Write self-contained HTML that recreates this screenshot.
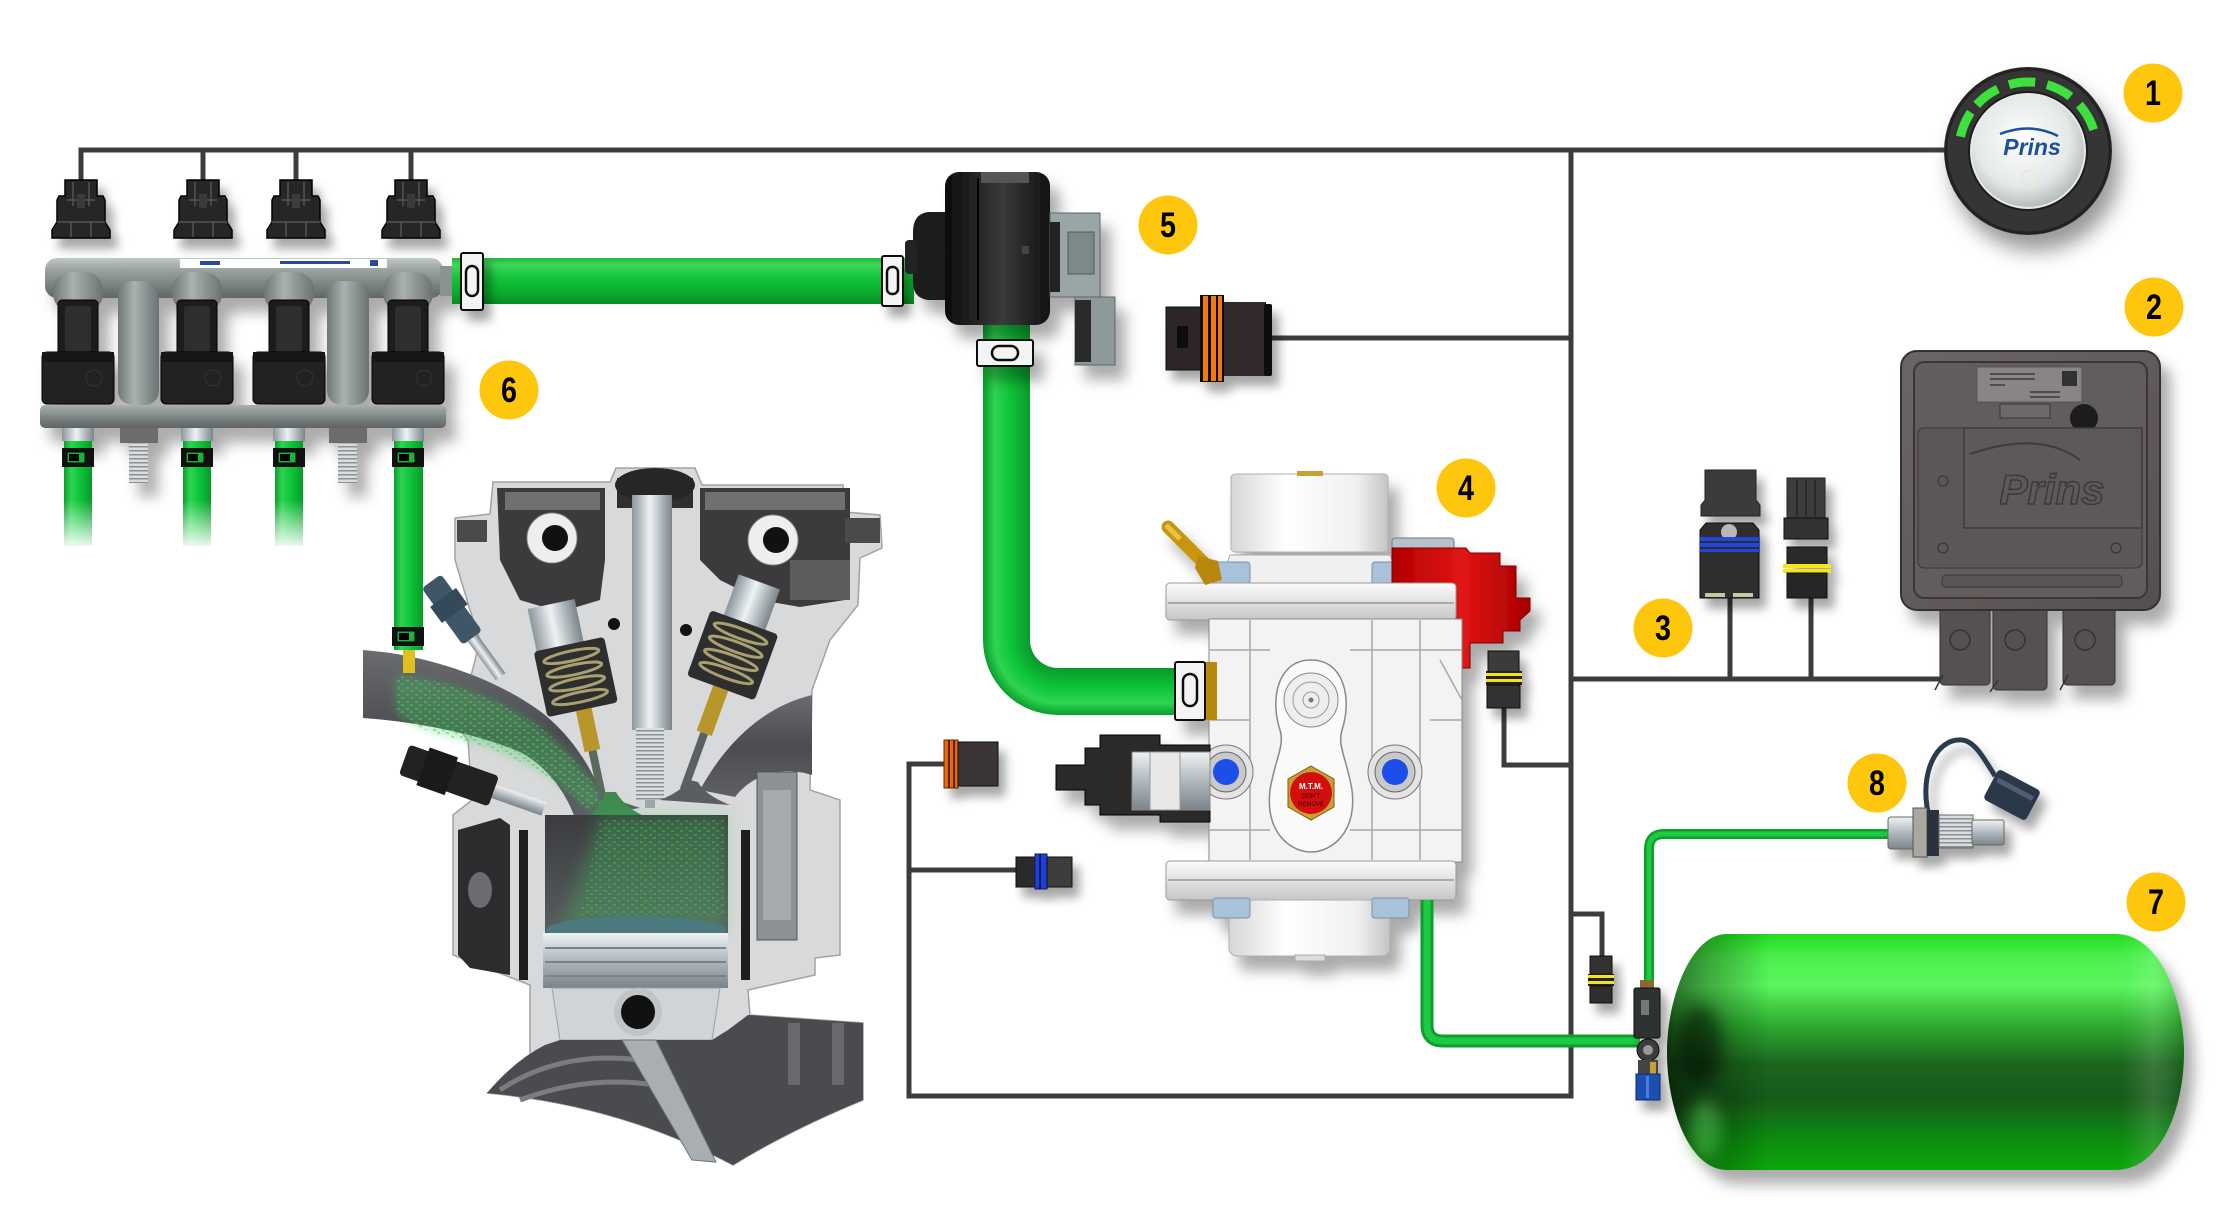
<!DOCTYPE html>
<html><head><meta charset="utf-8"><style>
html,body{margin:0;padding:0;background:#fff;}
svg{display:block;}
</style></head><body>
<svg width="2229" height="1232" viewBox="0 0 2229 1232" xmlns="http://www.w3.org/2000/svg" xmlns:xlink="http://www.w3.org/1999/xlink" font-family="'Liberation Sans', Arial, sans-serif">
<defs>
 <filter id="sh" x="-30%" y="-30%" width="170%" height="170%"><feDropShadow dx="10" dy="14" stdDeviation="7" flood-color="#000" flood-opacity="0.33"/></filter>
 <filter id="shs" x="-40%" y="-40%" width="190%" height="190%"><feDropShadow dx="7" dy="10" stdDeviation="5" flood-color="#000" flood-opacity="0.35"/></filter>
 <filter id="shk" x="-30%" y="-30%" width="170%" height="170%"><feDropShadow dx="8" dy="16" stdDeviation="10" flood-color="#000" flood-opacity="0.4"/></filter>
 <filter id="b4" x="-20%" y="-20%" width="140%" height="140%"><feGaussianBlur stdDeviation="4"/></filter>
 <filter id="b8" x="-30%" y="-30%" width="160%" height="160%"><feGaussianBlur stdDeviation="8"/></filter>
 <linearGradient id="gh" x1="0" y1="0" x2="0" y2="1"><stop offset="0" stop-color="#1fb83c"/><stop offset="0.15" stop-color="#3cd95a"/><stop offset="0.45" stop-color="#12c43a"/><stop offset="0.8" stop-color="#08a82c"/><stop offset="1" stop-color="#0a8a24"/></linearGradient>
 <linearGradient id="gh2" x1="0" y1="0" x2="0" y2="1"><stop offset="0" stop-color="#089a2a"/><stop offset="0.45" stop-color="#0ec73a"/><stop offset="0.75" stop-color="#2fd452"/><stop offset="1" stop-color="#0a9e2c"/></linearGradient>
 <linearGradient id="gv" x1="0" y1="0" x2="1" y2="0"><stop offset="0" stop-color="#0a9e2c"/><stop offset="0.25" stop-color="#2fd452"/><stop offset="0.55" stop-color="#0ec73a"/><stop offset="1" stop-color="#089a2a"/></linearGradient>
 <radialGradient id="gc" cx="1058" cy="640" r="75" gradientUnits="userSpaceOnUse"><stop offset="0.37" stop-color="#089a2a"/><stop offset="0.65" stop-color="#0ec73a"/><stop offset="0.84" stop-color="#2fd452"/><stop offset="1" stop-color="#0a9e2c"/></radialGradient>
 <linearGradient id="fadew" x1="0" y1="0" x2="0" y2="1"><stop offset="0" stop-color="#fff" stop-opacity="0"/><stop offset="1" stop-color="#fff" stop-opacity="1"/></linearGradient>
 <linearGradient id="gray1" x1="0" y1="0" x2="1" y2="0"><stop offset="0" stop-color="#6f7777"/><stop offset="0.4" stop-color="#aab1b1"/><stop offset="1" stop-color="#6a7272"/></linearGradient>
 <linearGradient id="railg" x1="0" y1="0" x2="0" y2="1"><stop offset="0" stop-color="#c2c8c8"/><stop offset="0.3" stop-color="#9aa2a2"/><stop offset="1" stop-color="#5e6666"/></linearGradient>
 <linearGradient id="plate" x1="0" y1="0" x2="0" y2="1"><stop offset="0" stop-color="#a9b0b0"/><stop offset="0.5" stop-color="#7f8787"/><stop offset="1" stop-color="#5d6464"/></linearGradient>
 <linearGradient id="silv" x1="0" y1="0" x2="1" y2="0"><stop offset="0" stop-color="#8c969c"/><stop offset="0.45" stop-color="#eef2f4"/><stop offset="1" stop-color="#7a848a"/></linearGradient>
 <linearGradient id="silvv" x1="0" y1="0" x2="0" y2="1"><stop offset="0" stop-color="#eef2f4"/><stop offset="0.5" stop-color="#b0b8be"/><stop offset="1" stop-color="#7a848a"/></linearGradient>
 <pattern id="thr" width="4" height="4" patternUnits="userSpaceOnUse"><rect width="4" height="4" fill="#d8dde0"/><rect y="2" width="4" height="1.5" fill="#8a9095"/></pattern>
 <linearGradient id="blk" x1="0" y1="0" x2="1" y2="0"><stop offset="0" stop-color="#0c0c0c"/><stop offset="0.55" stop-color="#3a3a3a"/><stop offset="1" stop-color="#111"/></linearGradient>
 <linearGradient id="wht" x1="0" y1="0" x2="1" y2="0"><stop offset="0" stop-color="#d6d6d6"/><stop offset="0.35" stop-color="#ffffff"/><stop offset="0.8" stop-color="#f0f0f0"/><stop offset="1" stop-color="#c4c4c4"/></linearGradient>
 <linearGradient id="flg" x1="0" y1="0" x2="0" y2="1"><stop offset="0" stop-color="#fbfbfb"/><stop offset="0.5" stop-color="#e2e2e2"/><stop offset="1" stop-color="#c6c6c6"/></linearGradient>
 <linearGradient id="red" x1="0" y1="0" x2="1" y2="0"><stop offset="0" stop-color="#b00000"/><stop offset="0.5" stop-color="#e21414"/><stop offset="1" stop-color="#a80000"/></linearGradient>
 <linearGradient id="tk" x1="0" y1="0" x2="0" y2="1"><stop offset="0" stop-color="#22dd22"/><stop offset="0.1" stop-color="#4cf04e"/><stop offset="0.22" stop-color="#5cf55e"/><stop offset="0.38" stop-color="#2eae30"/><stop offset="0.55" stop-color="#1c661e"/><stop offset="0.7" stop-color="#175a19"/><stop offset="0.86" stop-color="#0d8a10"/><stop offset="1" stop-color="#0aa80c"/></linearGradient>
 <linearGradient id="tkh" x1="0" y1="0" x2="1" y2="0"><stop offset="0" stop-color="#000" stop-opacity="0.55"/><stop offset="0.08" stop-color="#000" stop-opacity="0.3"/><stop offset="0.2" stop-color="#000" stop-opacity="0"/><stop offset="0.88" stop-color="#fff" stop-opacity="0"/><stop offset="0.94" stop-color="#fff" stop-opacity="0.13"/><stop offset="1" stop-color="#003300" stop-opacity="0.2"/></linearGradient>
 <radialGradient id="knobw" cx="0.45" cy="0.4" r="0.6"><stop offset="0" stop-color="#ffffff"/><stop offset="0.7" stop-color="#e4e8e8"/><stop offset="1" stop-color="#b8bdbd"/></radialGradient>
 <linearGradient id="bore" x1="0" y1="0" x2="0" y2="1"><stop offset="0" stop-color="#3a3c3e"/><stop offset="1" stop-color="#5a5d60"/></linearGradient>
 <linearGradient id="port" x1="0" y1="0" x2="0" y2="1"><stop offset="0" stop-color="#6a6c70"/><stop offset="0.5" stop-color="#4a4c50"/><stop offset="1" stop-color="#5e6064"/></linearGradient>
 <linearGradient id="ecu" x1="0" y1="0" x2="1" y2="1"><stop offset="0" stop-color="#6c6666"/><stop offset="1" stop-color="#564f4f"/></linearGradient>
 <pattern id="speck" width="9" height="7" patternUnits="userSpaceOnUse"><rect width="9" height="7" fill="none"/><rect x="1" y="1" width="3" height="2" fill="#3fd05a"/><rect x="5" y="4" width="3" height="2" fill="#3fd05a"/></pattern>

 <g id="tc"><path d="M-16,180 H16 V196 H22 L24,200 V222 L29,230 V238 H-29 V230 L-24,222 V200 L-22,196 H-16 Z" fill="#262626" stroke="#000" stroke-width="1.5"/><path d="M-8,182 V206 M8,182 V206 M-14,200 H14 M-10,222 V237 M10,222 V237 M-24,222 H24" stroke="#555" stroke-width="1.5" fill="none"/><rect x="-4" y="194" width="8" height="14" fill="#3a3a3a"/></g>
 <g id="inj"><rect x="-25" y="272" width="50" height="40" rx="18" fill="url(#gray1)"/><rect x="-20" y="300" width="40" height="62" rx="4" fill="#1d1d1d" stroke="#000"/><rect x="-13" y="306" width="26" height="46" rx="3" fill="#2e2e2e"/><rect x="-36" y="352" width="72" height="52" rx="5" fill="#232323" stroke="#000"/><rect x="-36" y="352" width="72" height="10" fill="#161616"/><circle cx="16" cy="378" r="8" fill="none" stroke="#333"/><rect x="-16" y="427" width="32" height="14" fill="url(#silv)"/></g>
 <g id="clip"><rect x="-16" y="0" width="32" height="19" fill="#111"/><rect x="-11" y="4" width="18" height="11" fill="#18b53a" stroke="#000"/><rect x="-9" y="6" width="10" height="7" fill="#000"/></g>
</defs>

<!-- wiring -->
<g stroke="#3c3c3c" stroke-width="5" fill="none" stroke-linejoin="miter">
 <path d="M81,184 V150 H1946"/>
 <path d="M203,150 V184 M296,150 V184 M411,150 V184"/>
 <path d="M1571,150 V1096 H909 V764 H944"/>
 <path d="M909,870 H1016"/>
 <path d="M1272,338 H1571"/>
 <path d="M1571,679 H1942 M1730,598 V679 M1811,598 V679"/>
 <path d="M1504,708 V765 H1571"/>
 <path d="M1571,914 H1602 V956"/>
</g>

<!-- injector connectors -->
<g filter="url(#shs)">
 <use xlink:href="#tc" x="81"/><use xlink:href="#tc" x="203"/><use xlink:href="#tc" x="296"/><use xlink:href="#tc" x="411"/>
</g>

<!-- rail -->
<g filter="url(#sh)">
 <rect x="45" y="258" width="398" height="40" rx="12" fill="url(#railg)"/>
 <rect x="440" y="266" width="16" height="30" fill="#8a9292"/>
 <rect x="180" y="259" width="207" height="9" fill="#fff"/>
 <rect x="200" y="261" width="20" height="4" fill="#2a4aa0"/><rect x="280" y="261" width="70" height="3" fill="#2a4aa0"/><rect x="370" y="260" width="8" height="6" fill="#2a4aa0"/>
 <rect x="118" y="281" width="41" height="124" rx="14" fill="url(#gray1)"/>
 <rect x="327" y="281" width="42" height="124" rx="14" fill="url(#gray1)"/>
 <use xlink:href="#inj" x="78"/><use xlink:href="#inj" x="197"/><use xlink:href="#inj" x="289"/><use xlink:href="#inj" x="408"/>
 <rect x="40" y="405" width="406" height="23" rx="5" fill="url(#plate)"/>
 <rect x="120" y="428" width="38" height="15" fill="#6d6d6d"/><rect x="129" y="443" width="19" height="40" fill="url(#thr)"/>
 <rect x="329" y="428" width="38" height="15" fill="#6d6d6d"/><rect x="338" y="443" width="19" height="40" fill="url(#thr)"/>
</g>

<!-- lower rail hoses -->
<rect x="64" y="441" width="28" height="105" fill="url(#gv)"/>
<rect x="183" y="441" width="28" height="105" fill="url(#gv)"/>
<rect x="275" y="441" width="28" height="105" fill="url(#gv)"/>
<rect x="58" y="500" width="250" height="50" fill="url(#fadew)"/>
<use xlink:href="#clip" x="78" y="448"/><use xlink:href="#clip" x="197" y="448"/><use xlink:href="#clip" x="289" y="448"/>

<!-- ENGINE -->
<g>
 <path d="M455,518 L490,514 L493,482 L610,482 L616,468 L695,468 L702,485 L843,485 L845,512 L880,515 L882,548 L860,558 L858,605 L830,640 L812,690 L810,790 L840,800 L840,955 L815,958 L815,975 L748,990 L750,1015 L863,1023 L863,1100 Q790,1130 733,1165 Q620,1105 487,1093 L530,1075 L530,985 L453,955 L453,815 L472,800 L468,740 L448,715 L470,680 L480,640 L470,610 L455,560 Z" fill="#d8d9da" stroke="#a0a2a4" stroke-width="1.5"/>
 <path d="M497,488 H605 V560 L600,600 L560,612 L520,600 L500,560 Z" fill="#3b3b3d"/>
 <path d="M700,488 H850 V560 L845,600 L800,607 L760,600 L720,580 L700,560 Z" fill="#3b3b3d"/>
 <path d="M505,492 H600 V510 H505 Z M705,492 H845 V510 H705 Z" fill="#6e7072"/>
 <path d="M790,560 H850 V600 H790 Z" fill="#5a5c5e"/>
 <circle cx="552" cy="538" r="25" fill="#eeeeee" stroke="#888"/><circle cx="555" cy="538" r="13" fill="#111"/>
 <circle cx="773" cy="540" r="25" fill="#eeeeee" stroke="#888"/><circle cx="776" cy="540" r="13" fill="#111"/>
 <rect x="457" y="520" width="30" height="22" fill="#4a4a4c"/>
 <rect x="845" y="518" width="35" height="25" fill="#4a4a4c"/>
 <circle cx="614" cy="624" r="6" fill="#111"/><circle cx="686" cy="630" r="6" fill="#111"/>
 <!-- intake port -->
 <path d="M363,650 C430,655 500,680 545,715 C575,740 592,770 602,795 L640,808 L575,818 C565,790 545,765 520,752 C480,735 420,722 363,718 Z" fill="url(#port)"/>
 <path d="M395,675 C450,680 515,702 555,740 C578,762 595,787 608,800 L588,810 C560,780 520,757 470,742 C430,732 410,727 395,712 Z" fill="#3fd05a" opacity="0.3" filter="url(#b4)"/>
 <path d="M395,675 C450,680 515,702 555,740 C578,762 595,787 608,800 L588,810 C560,780 520,757 470,742 C430,732 410,727 395,712 Z" fill="url(#speck)" opacity="0.5"/>
 <!-- exhaust port -->
 <path d="M812,695 C770,705 730,735 700,790 L735,797 C752,775 780,765 812,775 Z" fill="url(#port)"/>
 <!-- spark plug -->
 <rect x="617" y="478" width="76" height="30" fill="#2f2f2f"/>
 <ellipse cx="655" cy="485" rx="40" ry="17" fill="#262626"/>
 <rect x="632" y="495" width="40" height="235" fill="url(#silv)"/>
 <rect x="636" y="728" width="28" height="72" fill="url(#thr)"/>
 <rect x="645" y="800" width="10" height="8" fill="#9aa"/>
 <!-- left valve -->
 <g transform="rotate(-12,595,700)">
  <rect x="548" y="597" width="48" height="50" fill="url(#silv)"/>
  <rect x="545" y="640" width="72" height="67" rx="4" fill="#2e2e2e"/>
  <g fill="none" stroke="#a8a070" stroke-width="3"><ellipse cx="581" cy="652" rx="28" ry="5"/><ellipse cx="581" cy="666" rx="28" ry="5"/><ellipse cx="581" cy="680" rx="28" ry="5"/><ellipse cx="581" cy="694" rx="28" ry="5"/></g>
  <rect x="574" y="707" width="16" height="42" fill="#b8962a"/>
  <rect x="578" y="749" width="8" height="50" fill="#5a6a5e"/>
 </g>
 <path d="M577,826 Q600,808 606,792 L616,792 Q625,808 648,818 Z" fill="#3f8a4f"/>
 <!-- right valve -->
 <g transform="rotate(20,720,690)">
  <rect x="698" y="575" width="44" height="48" fill="url(#silv)"/>
  <rect x="684" y="618" width="72" height="70" rx="4" fill="#2e2e2e"/>
  <g fill="none" stroke="#a8a070" stroke-width="3"><ellipse cx="720" cy="630" rx="28" ry="5"/><ellipse cx="720" cy="644" rx="28" ry="5"/><ellipse cx="720" cy="658" rx="28" ry="5"/><ellipse cx="720" cy="672" rx="28" ry="5"/></g>
  <rect x="712" y="688" width="16" height="48" fill="#b8962a"/>
  <rect x="716" y="736" width="8" height="60" fill="#5a6064"/>
 </g>
 <path d="M660,800 Q680,792 690,780 L698,782 Q705,795 730,805 Z" fill="#5a5e62"/>
 <!-- injectors -->
 <g transform="rotate(-36,466,629)"><rect x="454" y="570" width="24" height="70" rx="4" fill="#3e5666"/><rect x="450" y="590" width="32" height="20" fill="#34495a"/><rect x="460" y="640" width="12" height="48" fill="url(#silv)"/></g>
 <g transform="rotate(19.5,473,784)"><rect x="400" y="768" width="95" height="32" rx="4" fill="#222"/><rect x="420" y="764" width="30" height="40" fill="#1a1a1a"/><rect x="495" y="777" width="53" height="14" fill="url(#silvv)"/></g>
 <!-- block -->
 <rect x="545" y="815" width="183" height="120" fill="url(#bore)"/>
 <path d="M600,815 L728,815 L728,930 L560,930 Z" fill="#40d060" opacity="0.28" filter="url(#b8)"/>
 <path d="M600,820 L725,820 L725,915 L580,915 Z" fill="url(#speck)" opacity="0.35"/>
 <ellipse cx="636" cy="930" rx="90" ry="14" fill="#4a7a80"/>
 <rect x="543" y="933" width="185" height="55" fill="url(#silvv)"/>
 <path d="M545,948 H726 M545,962 H726 M545,976 H726" stroke="#7a8288" stroke-width="2"/>
 <path d="M552,988 H720 L712,1040 H560 Z" fill="#d0d4d6" stroke="#9aa0a4"/>
 <circle cx="638" cy="1012" r="24" fill="#bfc4c6"/><circle cx="638" cy="1012" r="17" fill="#111"/>
 <path d="M458,830 L500,818 L510,825 V975 L470,968 L458,955 Z" fill="#2c2c2e"/>
 <ellipse cx="480" cy="890" rx="12" ry="18" fill="#6a6c70"/>
 <rect x="519" y="830" width="9" height="150" fill="#1e1e1e"/>
 <rect x="741" y="830" width="9" height="150" fill="#1e1e1e"/>
 <rect x="757" y="772" width="40" height="168" fill="#8d9194" stroke="#555"/>
 <rect x="763" y="790" width="28" height="130" fill="#a6aaad"/>
 <path d="M487,1093 Q515,1060 545,1045 L560,1040 H712 L728,1030 L748,1015 L863,1023 L863,1100 Q790,1130 733,1165 Q620,1105 487,1093 Z" fill="#4a4b4e"/>
 <path d="M500,1090 Q560,1050 640,1060 M520,1100 Q600,1070 680,1090" stroke="#7a7c80" stroke-width="5" fill="none"/>
 <path d="M622,1040 L656,1040 L716,1162 L692,1160 Z" fill="#a9aeb2" stroke="#6d7276"/>
 <rect x="788" y="1023" width="12" height="62" fill="#6a6a6e"/><rect x="832" y="1023" width="12" height="62" fill="#6a6a6e"/>
</g>

<!-- hose 4 to intake -->
<rect x="394" y="441" width="29" height="209" fill="url(#gv)"/>
<use xlink:href="#clip" x="408" y="448"/>
<use xlink:href="#clip" x="408" y="627"/>
<rect x="403" y="650" width="12" height="23" fill="#e0c020"/>

<!-- hose rail -> 5 -->
<rect x="452" y="258" width="462" height="46" fill="url(#gh)"/>
<g filter="url(#shs)">
 <rect x="461" y="253" width="22" height="57" rx="2" fill="#f4f4f4" stroke="#111" stroke-width="2"/><rect x="466" y="266" width="12" height="30" rx="6" fill="none" stroke="#111" stroke-width="2.5"/>
 <rect x="882" y="256" width="21" height="50" rx="2" fill="#f4f4f4" stroke="#111" stroke-width="2"/><rect x="887" y="267" width="11" height="27" rx="5" fill="none" stroke="#111" stroke-width="2.5"/>
</g>

<!-- hose 5 -> regulator -->
<rect x="983" y="322" width="47" height="319" fill="url(#gv)"/>
<path d="M983,640 A75,75 0 0 0 1058,715 L1058,668 A28,28 0 0 1 1030,640 Z" fill="url(#gc)"/>
<rect x="1057" y="668" width="120" height="47" fill="url(#gh2)"/>

<!-- valve 5 -->
<g filter="url(#sh)">
 <path d="M948,212 H928 Q913,214 913,232 V282 Q913,298 928,300 H948 Z" fill="#1a1a1a"/>
 <rect x="905" y="240" width="12" height="34" rx="4" fill="#222"/>
 <rect x="945" y="172" width="105" height="153" rx="14" fill="url(#blk)"/>
 <line x1="978" y1="178" x2="978" y2="320" stroke="#000" stroke-width="2"/>
 <rect x="981" y="172" width="48" height="11" fill="#555"/>
 <rect x="1022" y="246" width="7" height="8" fill="#444"/>
 <rect x="1050" y="213" width="50" height="84" fill="#9aa5a5" stroke="#5e6868"/>
 <rect x="1050" y="222" width="10" height="70" fill="#222"/>
 <rect x="1068" y="232" width="26" height="42" fill="#7d8888" stroke="#556"/>
 <rect x="1075" y="297" width="40" height="68" fill="#8e9999" stroke="#5e6868"/>
 <rect x="1075" y="300" width="16" height="62" fill="#2a2a2a"/>
 <rect x="977" y="340" width="56" height="26" rx="2" fill="#f4f4f4" stroke="#111" stroke-width="2"/><rect x="992" y="346" width="26" height="14" rx="7" fill="none" stroke="#111" stroke-width="2.5"/>
</g>

<!-- orange connector near 5 -->
<g filter="url(#shs)">
 <rect x="1166" y="307" width="36" height="63" fill="#2e2626" stroke="#111"/>
 <rect x="1177" y="326" width="11" height="22" fill="#0d0d0d"/>
 <rect x="1200" y="295" width="24" height="87" fill="#111"/>
 <rect x="1203" y="296" width="5" height="85" fill="#f07a0a"/><rect x="1211" y="296" width="5" height="85" fill="#f07a0a"/><rect x="1218" y="296" width="4" height="85" fill="#f07a0a"/>
 <rect x="1224" y="302" width="42" height="74" fill="#332b2b"/>
 <rect x="1264" y="304" width="8" height="72" rx="2" fill="#111"/>
</g>

<!-- left orange & blue connectors -->
<g filter="url(#shs)">
 <rect x="944" y="740" width="14" height="48" fill="#e8680a" stroke="#6a2a00"/>
 <rect x="948" y="740" width="2" height="48" fill="#5a2000"/><rect x="953" y="740" width="2" height="48" fill="#5a2000"/>
 <rect x="958" y="742" width="40" height="44" fill="#3a3535" stroke="#111"/>
 <rect x="1016" y="857" width="20" height="30" fill="#2a2a2a" stroke="#111"/>
 <rect x="1035" y="854" width="12" height="35" fill="#1f3fd8" stroke="#0a1a60"/>
 <rect x="1039" y="854" width="2" height="35" fill="#0a1a60"/>
 <rect x="1047" y="857" width="25" height="30" fill="#3d3d3d" stroke="#111"/>
</g>

<!-- REGULATOR 4 -->
<g filter="url(#sh)">
 <rect x="1231" y="474" width="157" height="78" rx="4" fill="url(#wht)" stroke="#b0b0b0"/>
 <rect x="1297" y="471" width="26" height="5" fill="#c9a030"/>
 <path d="M1255,583 V568 Q1272,548 1290,568 V583 M1360,583 V568 Q1377,548 1395,568 V583" fill="#f4f4f4" stroke="#999" stroke-width="2"/>
 <path d="M1230,555 H1390 L1400,583 H1220 Z" fill="#f0f0f0" stroke="#aaa"/>
 <rect x="1213" y="562" width="37" height="22" rx="3" fill="#a9c2dc" stroke="#7a90a8"/>
 <rect x="1372" y="562" width="37" height="22" rx="3" fill="#a9c2dc" stroke="#7a90a8"/>
 <rect x="1392" y="538" width="62" height="12" rx="3" fill="#b8c0c8" stroke="#777"/>
 <path d="M1392,548 H1466 L1470,553 H1500 V566 H1516 V598 H1530 V611 L1520,620 V631 H1503 V643 H1470 V668 H1413 L1392,655 Z" fill="url(#red)" stroke="#700" stroke-width="1"/>
 <rect x="1166" y="583" width="290" height="37" rx="4" fill="url(#flg)" stroke="#999"/>
 <line x1="1168" y1="603" x2="1454" y2="603" stroke="#aaa" stroke-width="2"/>
 <rect x="1209" y="619" width="253" height="243" fill="#f3f3f3" stroke="#8a8a8a"/>
 <g stroke="#a8a8a8" stroke-width="1.5" fill="none">
  <path d="M1250,620 V860 M1372,620 V860 M1420,620 V860 M1440,660 L1462,700"/>
  <path d="M1209,650 H1270 M1350,650 H1462 M1209,830 H1270 M1350,830 H1462 M1209,720 H1250 M1430,720 H1462"/>
 </g>
 <path d="M1311,660 C1345,660 1352,700 1342,730 C1337,745 1347,760 1352,790 C1357,832 1332,852 1311,852 C1290,852 1265,832 1270,790 C1275,760 1285,745 1280,730 C1270,700 1277,660 1311,660 Z" fill="#fafafa" stroke="#888" stroke-width="1.5"/>
 <circle cx="1311" cy="700" r="27" fill="#eeeeee" stroke="#888"/><circle cx="1311" cy="700" r="18" fill="none" stroke="#999"/><circle cx="1311" cy="700" r="8" fill="none" stroke="#999"/><circle cx="1311" cy="700" r="2.5" fill="#777"/>
 <circle cx="1226" cy="772" r="27" fill="#e4e4e4" stroke="#777"/><circle cx="1226" cy="772" r="20" fill="#c9c9c9" stroke="#666"/><circle cx="1226" cy="772" r="13" fill="#1f4fe8"/>
 <circle cx="1395" cy="772" r="27" fill="#e4e4e4" stroke="#777"/><circle cx="1395" cy="772" r="20" fill="#c9c9c9" stroke="#666"/><circle cx="1395" cy="772" r="13" fill="#1f4fe8"/>
 <polygon points="1311,766 1334,779 1334,807 1311,820 1288,807 1288,779" fill="#c9a030" stroke="#7a5a10"/>
 <circle cx="1311" cy="793" r="21" fill="#d41010"/>
 <text x="1311" y="789" font-size="8" font-weight="bold" fill="#fff" text-anchor="middle">M.T.M.</text>
 <text x="1311" y="798" font-size="6" fill="#300" text-anchor="middle">DON'T</text>
 <text x="1311" y="806" font-size="6" fill="#300" text-anchor="middle">REMOVE</text>
 <rect x="1166" y="861" width="290" height="39" rx="4" fill="url(#flg)" stroke="#999"/>
 <line x1="1168" y1="880" x2="1454" y2="880" stroke="#aaa" stroke-width="2"/>
 <rect x="1229" y="900" width="161" height="56" rx="8" fill="url(#wht)" stroke="#b0b0b0"/>
 <rect x="1213" y="898" width="37" height="20" rx="3" fill="#a9c2dc" stroke="#7a90a8"/>
 <rect x="1372" y="898" width="37" height="20" rx="3" fill="#a9c2dc" stroke="#7a90a8"/>
 <rect x="1295" y="955" width="30" height="6" fill="#ddd" stroke="#aaa"/>
 <line x1="1168" y1="527" x2="1212" y2="571" stroke="#c8960c" stroke-width="13" stroke-linecap="round"/>
 <line x1="1166" y1="525" x2="1180" y2="539" stroke="#e8c050" stroke-width="5"/>
 <polygon points="1198,556 1218,561 1222,580 1205,585 1195,568" fill="#b88810"/>
 <path d="M1056,765 H1085 V748 H1100 V735 H1160 V745 H1210 V822 H1160 V815 H1100 V805 H1085 V790 H1056 Z" fill="#2a2a2a" stroke="#000"/>
 <rect x="1132" y="752" width="78" height="58" fill="url(#silvv)" stroke="#888"/>
 <rect x="1150" y="752" width="30" height="58" fill="#e8e8e8" stroke="#999"/>
 <rect x="1203" y="662" width="14" height="58" fill="#b88810"/>
 <rect x="1175" y="662" width="30" height="58" rx="2" fill="#f4f4f4" stroke="#111" stroke-width="2"/><rect x="1183" y="674" width="14" height="32" rx="7" fill="none" stroke="#111" stroke-width="2.5"/>
</g>

<!-- yellow connector near regulator -->
<g filter="url(#shs)">
 <rect x="1488" y="651" width="31" height="22" fill="#3a3a3a" stroke="#111"/>
 <rect x="1486" y="671" width="36" height="14" fill="#222"/>
 <rect x="1486" y="673" width="36" height="3" fill="#f4e21a"/><rect x="1486" y="679" width="36" height="3" fill="#f4e21a"/>
 <rect x="1487" y="685" width="33" height="23" fill="#333" stroke="#111"/>
</g>

<!-- connectors 3 -->
<g filter="url(#shs)">
 <path d="M1705,470 H1756 V500 L1760,505 V516 H1701 V505 L1705,500 Z" fill="#3a3a3a" stroke="#222"/>
 <path d="M1706,523 H1753 L1759,530 V598 H1700 V530 Z" fill="#2f2f2f" stroke="#111"/>
 <circle cx="1729" cy="532" r="8" fill="#b8b8b8"/>
 <rect x="1700" y="537" width="60" height="4" fill="#2244dd"/><rect x="1700" y="543" width="60" height="4" fill="#2244dd"/><rect x="1700" y="549" width="60" height="3" fill="#2244dd"/>
 <rect x="1705" y="593" width="20" height="4" fill="#c8c8a0"/><rect x="1733" y="593" width="20" height="4" fill="#c8c8a0"/>
 <rect x="1787" y="478" width="38" height="40" fill="#3e3e3e" stroke="#222"/>
 <path d="M1797,480 V516 M1806,480 V516 M1815,480 V516" stroke="#222" stroke-width="1.5"/>
 <rect x="1784" y="518" width="44" height="21" fill="#333" stroke="#111"/>
 <rect x="1787" y="547" width="40" height="18" fill="#2a2a2a" stroke="#111"/>
 <rect x="1783" y="564" width="48" height="4" fill="#f5e51a"/><rect x="1783" y="569" width="48" height="4" fill="#f5e51a"/>
 <rect x="1787" y="573" width="40" height="25" fill="#262626" stroke="#111"/>
</g>

<!-- ECU 2 -->
<g filter="url(#sh)">
 <rect x="1940" y="605" width="50" height="80" rx="4" fill="#575151" stroke="#333"/>
 <rect x="1993" y="605" width="54" height="85" rx="4" fill="#575151" stroke="#333"/>
 <rect x="2063" y="605" width="52" height="80" rx="4" fill="#575151" stroke="#333"/>
 <g fill="none" stroke="#333" stroke-width="1.5"><circle cx="1960" cy="640" r="10"/><circle cx="2015" cy="640" r="10"/><circle cx="2085" cy="640" r="10"/><path d="M1943,675 L1935,690 M1998,680 L1990,692 M2068,675 L2060,690"/></g>
 <rect x="1901" y="351" width="259" height="259" rx="16" fill="url(#ecu)" stroke="#333" stroke-width="2"/>
 <rect x="1914" y="362" width="233" height="236" rx="10" fill="#625c5c" stroke="#3a3434" stroke-width="2"/>
 <rect x="1977" y="367" width="105" height="35" fill="#8a8585" stroke="#555"/>
 <g stroke="#3a3a3a" stroke-width="1.5"><line x1="1990" y1="374" x2="2035" y2="374"/><line x1="1990" y1="379" x2="2035" y2="379"/><line x1="1990" y1="385" x2="2005" y2="385"/><line x1="2030" y1="392" x2="2060" y2="392"/><line x1="2030" y1="397" x2="2060" y2="397"/></g>
 <rect x="2062" y="371" width="15" height="15" fill="#333"/>
 <rect x="2000" y="404" width="50" height="14" fill="#6e6868" stroke="#3a3434"/>
 <circle cx="2084" cy="418" r="14" fill="#1c1c1c"/>
 <rect x="1918" y="428" width="224" height="140" rx="6" fill="#5c5656" stroke="#3a3434"/>
 <rect x="1964" y="428" width="178" height="100" fill="#5e5858" stroke="#413b3b" stroke-width="1.5"/>
 <path d="M1970,454 Q2040,430 2080,460" fill="none" stroke="#403a3a" stroke-width="2"/>
 <text x="2052" y="504" font-size="42" font-style="italic" font-weight="bold" fill="#5e5858" stroke="#3d3737" stroke-width="1.5" text-anchor="middle">Prins</text>
 <circle cx="1943" cy="481" r="5" fill="none" stroke="#333"/><circle cx="1943" cy="548" r="5" fill="none" stroke="#333"/><circle cx="2116" cy="548" r="5" fill="none" stroke="#333"/>
 <rect x="1942" y="575" width="180" height="12" rx="4" fill="#5a5454" stroke="#3a3434"/>
</g>

<!-- thin hoses -->
<path d="M1427,900 V1025 Q1427,1041 1443,1041 H1640" fill="none" stroke="#0e9e2e" stroke-width="13"/>
<path d="M1427,900 V1025 Q1427,1041 1443,1041 H1640" fill="none" stroke="#1ccb42" stroke-width="7"/>
<path d="M1649,990 V849 Q1649,834 1664,834 H1895" fill="none" stroke="#0e9e2e" stroke-width="10"/>
<path d="M1649,990 V849 Q1649,834 1664,834 H1895" fill="none" stroke="#1ccb42" stroke-width="5"/>

<!-- small tank connector -->
<g filter="url(#shs)">
 <rect x="1590" y="956" width="22" height="18" fill="#333" stroke="#111"/>
 <rect x="1588" y="974" width="26" height="12" fill="#222"/>
 <rect x="1588" y="975" width="26" height="3" fill="#f4e21a"/><rect x="1588" y="981" width="26" height="3" fill="#f4e21a"/>
 <rect x="1590" y="986" width="22" height="17" fill="#2e2e2e" stroke="#111"/>
</g>

<!-- tank 7 -->
<g filter="url(#sh)">
 <path d="M1727,934 L2116,934 C2160,934 2184,1000 2184,1052 C2184,1110 2160,1170 2116,1170 L1727,1170 C1690,1170 1667,1110 1667,1052 C1667,1000 1690,934 1727,934 Z" fill="url(#tk)"/>
</g>
<path d="M1727,934 L2116,934 C2160,934 2184,1000 2184,1052 C2184,1110 2160,1170 2116,1170 L1727,1170 C1690,1170 1667,1110 1667,1052 C1667,1000 1690,934 1727,934 Z" fill="url(#tkh)"/>
<ellipse cx="1700" cy="1045" rx="22" ry="40" fill="#000" opacity="0.45" filter="url(#b8)"/>
<ellipse cx="1705" cy="1130" rx="16" ry="30" fill="#7aff7a" opacity="0.35" filter="url(#b8)"/>

<!-- tank valve -->
<g filter="url(#shs)">
 <rect x="1640" y="980" width="14" height="10" fill="#8a6a30"/>
 <rect x="1634" y="988" width="26" height="50" rx="2" fill="#2e3032" stroke="#111"/>
 <rect x="1641" y="1000" width="8" height="15" fill="#777"/>
 <circle cx="1648" cy="1050" r="11" fill="#3a3c3e" stroke="#111"/>
 <circle cx="1648" cy="1050" r="5" fill="#999"/>
 <rect x="1638" y="1060" width="20" height="14" fill="#444"/>
 <rect x="1650" y="1062" width="6" height="12" fill="#c8a030"/>
 <rect x="1636" y="1074" width="24" height="26" fill="#1c50b0" stroke="#0a2a70"/>
 <rect x="1646" y="1076" width="3" height="22" fill="#4a80e0"/>
</g>

<!-- filler 8 -->
<g filter="url(#shs)">
 <path d="M1928,812 C1920,775 1935,738 1962,740 C1975,741 1985,760 1995,776" fill="none" stroke="#2a3a4e" stroke-width="5"/>
 <g transform="rotate(28,2012,795)"><rect x="1988" y="778" width="48" height="34" rx="4" fill="#2c3848"/><rect x="1992" y="786" width="40" height="5" fill="#6a7a8c" opacity="0.6"/></g>
 <rect x="1888" y="817" width="26" height="32" rx="3" fill="url(#silvv)" stroke="#6a6a60"/>
 <rect x="1913" y="808" width="14" height="49" fill="#a8a89e" stroke="#555"/>
 <rect x="1927" y="810" width="12" height="46" fill="#2a3240"/>
 <rect x="1939" y="815" width="34" height="33" fill="url(#thr)" stroke="#6a6a60"/>
 <rect x="1972" y="820" width="32" height="25" rx="2" fill="url(#silvv)" stroke="#6a6a60"/>
</g>

<!-- knob 1 -->
<g filter="url(#shk)">
 <circle cx="2028" cy="151" r="84" fill="#363636"/>
 <circle cx="2028" cy="151" r="82" fill="none" stroke="#222" stroke-width="3"/>
 <circle cx="2028" cy="151" r="59" fill="#e8eaea" stroke="#1e1e1e" stroke-width="2"/>
 <circle cx="2028" cy="151" r="56" fill="url(#knobw)"/>
</g>
<g fill="none" stroke="#3de03d" stroke-width="9">
 <path d="M1960.5,136.7 A69,69 0 0 1 1970.8,112.4"/>
 <path d="M1976.7,104.8 A69,69 0 0 1 1997.8,89"/>
 <path d="M2009,84.7 A69,69 0 0 1 2035.2,82.4"/>
 <path d="M2047,84.7 A69,69 0 0 1 2070.5,96.6"/>
 <path d="M2079.3,104.8 A69,69 0 0 1 2093.6,129.7"/>
</g>
<path d="M2000,134 Q2030,122 2058,136" fill="none" stroke="#1c4f9c" stroke-width="2.5"/>
<text x="2032" y="155" font-size="23" font-weight="bold" font-style="italic" fill="#1c4f9c" text-anchor="middle">Prins</text>
<circle cx="2030" cy="178" r="8" fill="none" stroke="#eee6b0" stroke-width="1"/>

<!-- badges -->
<g font-weight="bold" font-size="35" fill="#000" text-anchor="middle">
 <circle cx="2153" cy="93" r="29.5" fill="#fec60c"/><text transform="translate(2153,105) scale(0.82,1)">1</text>
 <circle cx="2154" cy="307" r="29.5" fill="#fec60c"/><text transform="translate(2154,319) scale(0.82,1)">2</text>
 <circle cx="1663" cy="628" r="29.5" fill="#fec60c"/><text transform="translate(1663,640) scale(0.82,1)">3</text>
 <circle cx="1466" cy="488" r="29.5" fill="#fec60c"/><text transform="translate(1466,500) scale(0.82,1)">4</text>
 <circle cx="1168" cy="225" r="29.5" fill="#fec60c"/><text transform="translate(1168,237) scale(0.82,1)">5</text>
 <circle cx="509" cy="390" r="29.5" fill="#fec60c"/><text transform="translate(509,402) scale(0.82,1)">6</text>
 <circle cx="2156" cy="902" r="29.5" fill="#fec60c"/><text transform="translate(2156,914) scale(0.82,1)">7</text>
 <circle cx="1877" cy="783" r="29.5" fill="#fec60c"/><text transform="translate(1877,795) scale(0.82,1)">8</text>
</g>
</svg>
</body></html>
